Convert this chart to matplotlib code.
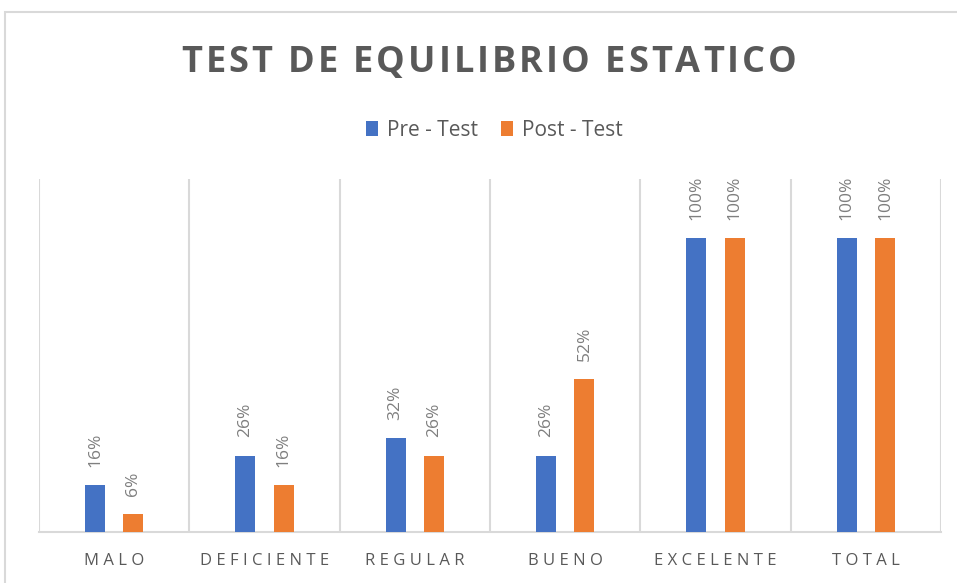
import matplotlib
matplotlib.use("Agg")
import matplotlib.pyplot as plt
from matplotlib.patches import Rectangle
from matplotlib import font_manager
from matplotlib.ft2font import FT2Font
import numpy as np

categories = ["MALO", "DEFICIENTE", "REGULAR", "BUENO", "EXCELENTE", "TOTAL"]
pre_test = [16, 26, 32, 26, 100, 100]
post_test = [6, 16, 26, 52, 100, 100]
series_names = ["Pre - Test", "Post - Test"]
title = "TEST DE EQUILIBRIO ESTATICO"

BLUE = "#4472C4"
ORANGE = "#ED7D31"
GRID = "#D9D9D9"
FONT = ["Open Sans", "DejaVu Sans"]
W, H, DPI = 957, 583, 100

plt.rcParams["font.family"] = FONT

fig = plt.figure(figsize=(W/DPI, H/DPI), dpi=DPI)
ax = fig.add_axes([39/W, 51/H, 902/W, 353/H])

x = np.arange(len(categories))
w = 0.133
off = 0.128
b1 = ax.bar(x - off, pre_test, w, color=BLUE, label=series_names[0], zorder=3)
b2 = ax.bar(x + off, post_test, w, color=ORANGE, label=series_names[1], zorder=3)

for bars, vals in ((b1, pre_test), (b2, post_test)):
    for rect, v in zip(bars, vals):
        ax.annotate(f"{v}%", (rect.get_x() + rect.get_width()/2, rect.get_height()),
                    xytext=(0, 13), textcoords="offset points", rotation=90,
                    ha="center", va="bottom", fontsize=12.5, color="#7F7F7F")

ax.set_xlim(-0.5, len(categories) - 0.5)
ax.set_ylim(0, 120)
ax.set_yticks([])
for b in np.arange(-0.5, len(categories), 1.0):
    ax.axvline(b, color=GRID, lw=1.5, zorder=1)
for s in ["top", "left", "right"]:
    ax.spines[s].set_visible(False)
ax.spines["bottom"].set_color(GRID)
ax.spines["bottom"].set_linewidth(1.5)
ax.set_xticks(x)
ax.set_xticklabels([" ".join(c) for c in categories], fontsize=12, color="#595959")
ax.tick_params(axis="x", length=0, pad=15)


def spaced_text(text, cx_px, cy_px, size, spacing_px, **kw):
    fp = font_manager.FontProperties(family="Open Sans", weight="bold")
    ft = FT2Font(font_manager.findfont(fp))
    ft.set_size(size, DPI)
    adv = [ft.load_char(ord(c)).linearHoriAdvance / 65536 for c in text]
    total = sum(adv) + spacing_px * (len(text) - 1)
    xpos = cx_px - total / 2
    for c, a in zip(text, adv):
        if c != " ":
            fig.text(xpos / W, 1 - cy_px / H, c, ha="left", va="center",
                     fontsize=size, **kw)
        xpos += a + spacing_px


spaced_text(title, 489, 63, 26, 3.0, fontweight="bold", color="#595959")

fig.legend(handles=[b1, b2], labels=series_names, loc="center",
           bbox_to_anchor=(494.5/W, 1 - 130/H), ncol=2, frameon=False,
           fontsize=15, handlelength=0.55, handleheight=0.7, handletextpad=0.45,
           columnspacing=1.1, labelcolor="#595959")

fig.patches.append(Rectangle((5/W, -0.1), 1.1, 1 - 12/H + 0.1,
                             transform=fig.transFigure, fill=False,
                             edgecolor=GRID, lw=1.5))

fig.savefig("out.png", dpi=DPI)
